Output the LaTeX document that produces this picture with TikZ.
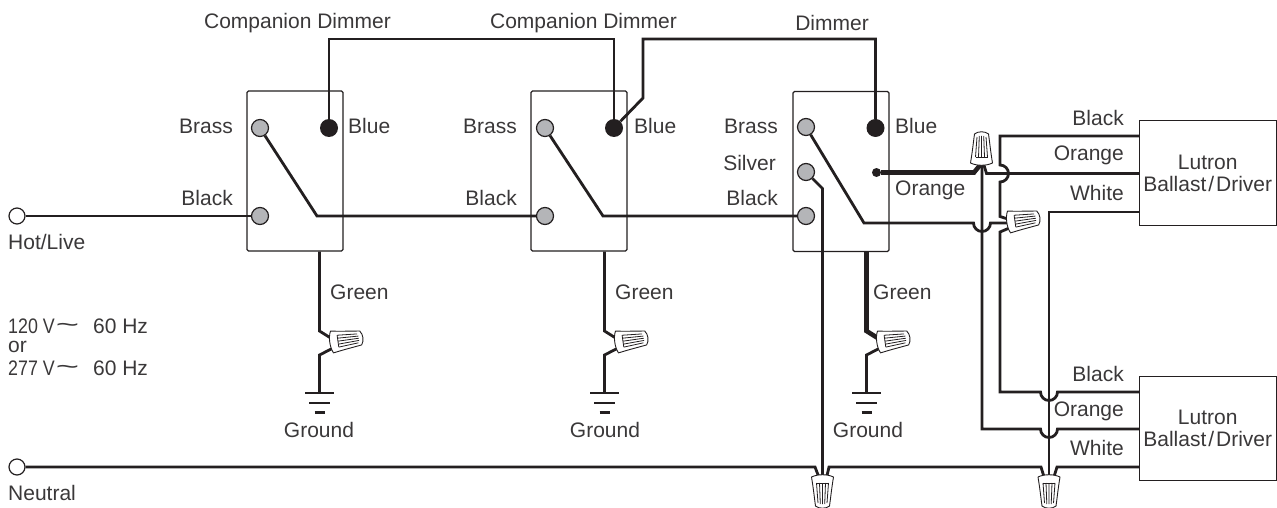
\documentclass[tikz,border=0pt]{standalone}
\usepackage{fontspec}
\setmainfont{Liberation Sans}
\definecolor{ink}{HTML}{231F20}
\definecolor{txt}{HTML}{3A3839}
\definecolor{brassc}{HTML}{B4B5B8}
\newcommand{\wavy}{\raisebox{1pt}{\scalebox{1.9}[1.1]{\char`\~}}}
\newcommand{\ballast}{Ballast\kern2pt/\kern2pt Driver}
\newcommand{\voltline}[1]{\scalebox{.85}[1]{#1 V}\kern1pt\wavy\kern14pt 60 Hz}
\tikzset{
  x=1pt,y=-1pt,
  wire/.style={draw=ink,line width=2.8pt,line join=miter},
  thickwire/.style={draw=ink,line width=4.6pt},
  switchbox/.style={draw=ink,line width=1.1pt,rounded corners=1.5pt,fill=white,minimum width=96pt,minimum height=160pt,inner sep=0pt},
  driverbox/.style={draw=ink,line width=1pt,fill=white,minimum width=136.5pt,minimum height=104pt,inner sep=0pt,align=center,text=txt,font=\fontsize{21}{22}\selectfont},
  lbl/.style={inner sep=0pt,text=txt,font=\fontsize{21}{25}\selectfont},
  brassdot/.style={circle,draw=ink,line width=1.2pt,fill=brassc,minimum size=17pt,inner sep=0pt},
  bluedot/.style={circle,fill=ink,minimum size=18pt,inner sep=0pt},
  smalldot/.style={circle,fill=ink,minimum size=9pt,inner sep=0pt},
  opendot/.style={circle,draw=ink,line width=1.2pt,fill=white,minimum size=16pt,inner sep=0pt},
  gbar/.style={draw=ink,line width=2.6pt},
  nutline/.style={draw=ink,line width=0.9pt,fill=white,line join=round},
  nutrib/.style={draw=ink,line width=0.8pt},
  pics/nut/.style={code={
    % base at origin, tip toward -y, length 32
    \path[nutline] (-11,0) .. controls (-9,-12) and (-8,-22) .. (-7,-29)
      .. controls (-3,-32) and (3,-32) .. (7,-29)
      .. controls (8,-22) and (9,-12) .. (11,0)
      .. controls (5,3) and (-5,3) .. (-11,0) -- cycle;
    \path[nutrib] (-6,-6) -- (-4.5,-26) (-3,-6) -- (-2.2,-27) (0,-6) -- (0,-27) (3,-6) -- (2.2,-27) (6,-6) -- (4.5,-26);
    \path[nutrib] (-6,-6) -- (6,-6);
  }},
}
\begin{document}
\begin{tikzpicture}
\useasboundingbox (0,0) rectangle (1277,508);

% switches
\node[switchbox] (s1) at (295,171) {};
\node[switchbox] (s2) at (579,171) {};
\node[switchbox] (s3) at (841,171.5) {};

% terminals
\node[brassdot] (b1) at (260,128) {};
\node[bluedot] (u1) at (329,128) {};
\node[brassdot] (k1) at (260,216) {};
\node[brassdot] (b2) at (545,128) {};
\node[bluedot] (u2) at (614,128) {};
\node[brassdot] (k2) at (545,216) {};
\node[brassdot] (b3) at (806,127) {};
\node[bluedot] (u3) at (875.5,128) {};
\node[brassdot] (v3) at (806,172) {};
\node[brassdot] (k3) at (806,216) {};
\node[smalldot] (o3) at (876.5,172.5) {};

% line ends and drivers
\node[opendot] (hot) at (17,216) {};
\node[opendot] (neu) at (17,467) {};
\node[driverbox] (d1) at (1207.75,173) {Lutron\\\ballast};
\node[driverbox] (d2) at (1207.75,428.5) {Lutron\\\ballast};

% bends
\coordinate (top1) at (329,39);
\coordinate (top2) at (614,39);
\coordinate (top3) at (643,39);
\coordinate (top4) at (875.5,39);
\coordinate (kink) at (643,98);
\coordinate (a1) at (317,216);
\coordinate (a2) at (603,216);
\coordinate (a3) at (864,223);

% wires: hot side
\draw[wire] (hot) -- (k1);
\draw[wire] (b1) -- (a1) -- (k2);
\draw[wire] (b2) -- (a2) -- (k3);
\draw[wire] (b3) -- (a3) -- (973.5,223) arc[start angle=180,end angle=0,radius=8.5] -- (1012,223);
\draw[wire] (u1) -- (top1) -- (top2) -- (u2);
\draw[wire] (u2) -- (kink) -- (top3) -- (top4) -- (u3);

% orange
\draw[thickwire] (o3) -- (974,172.5) -- (981,164);
\draw[wire] (982,160) -- (982,429) -- (1040.5,429) arc[start angle=180,end angle=0,radius=8.5] -- (d2.west |- 0,429);
\draw[wire] (983,162) -- (986.5,173.5) -- (d1.west |- 0,173.5);

% black
\draw[wire] (d1.west |- 0,136) -- (1000,136) -- (1000,165) arc[start angle=-90,end angle=90,radius=8.5] -- (1000,216.5) -- (1014,221);
\draw[wire] (1014,226) -- (1000,232) -- (1000,392) -- (1040.5,392) arc[start angle=180,end angle=0,radius=8.5] -- (d2.west |- 0,392);

% white
\draw[wire] (d1.west |- 0,212) -- (1049,212) -- (1049,480);
\draw[wire] (neu) -- (815,467) -- (820,480);
\draw[wire] (822.5,480) -- (822.5,188.5) -- (v3);
\draw[wire] (826,480) -- (829,467) -- (1041,467) -- (1045,480);
\draw[wire] (1053,480) -- (1057,467) -- (d2.west |- 0,467);

% ground legs
\draw[wire] (s1.south -| 319.5,0) -- (319.5,331) -- (337,342);
\draw[wire] (337,346) -- (319.5,355) -- (319.5,393);
\draw[wire] (s2.south -| 604.5,0) -- (604.5,331) -- (622,342);
\draw[wire] (622,346) -- (604.5,355) -- (604.5,393);
\draw[thickwire] (s3.south -| 866.5,0) -- (866.5,331) -- (884,342);
\draw[wire] (884,346) -- (866.5,355) -- (866.5,393);

\foreach \gx in {319.5,604.5,866.5}{
  \draw[gbar] (\gx-14.5,393) -- (\gx+14.5,393);
  \draw[gbar] (\gx-10.5,403) -- (\gx+10.5,403);
  \draw[gbar] (\gx-5,412.5) -- (\gx+5,412.5);
}

% wire nuts
\pic at (981.5,163) {nut};
\pic[rotate=-82] at (1009,222) {nut};
\pic[rotate=-82] at (332,342) {nut};
\pic[rotate=-82] at (617,342) {nut};
\pic[rotate=-82] at (879,342) {nut};
\pic[rotate=180] at (822.5,477) {nut};
\pic[rotate=180] at (1049,477) {nut};

% labels
\node[lbl] (t1) at (297.5,23) {Companion Dimmer};
\node[lbl] (t2) at (583.5,23) {Companion Dimmer};
\node[lbl] (t3) at (832,23) {Dimmer};
\node[lbl,anchor=east] (l1) at (233,126) {Brass};
\node[lbl,anchor=east] (l2) at (233,198) {Black};
\node[lbl,anchor=west] (l3) at (348,126) {Blue};
\node[lbl,anchor=east] (l4) at (517,126) {Brass};
\node[lbl,anchor=east] (l5) at (517,198) {Black};
\node[lbl,anchor=west] (l6) at (634,126) {Blue};
\node[lbl,anchor=east] (l7) at (778,126) {Brass};
\node[lbl,anchor=east] (l8) at (776,163) {Silver};
\node[lbl,anchor=east] (l9) at (778,198) {Black};
\node[lbl,anchor=west] (l10) at (895,126) {Blue};
\node[lbl,anchor=west] (l11) at (895,190) {Orange};
\node[lbl,anchor=west] (g1) at (330,292) {Green};
\node[lbl,anchor=west] (g2) at (615,292) {Green};
\node[lbl,anchor=west] (g3) at (873,292) {Green};
\node[lbl] (gr1) at (319,430) {Ground};
\node[lbl] (gr2) at (605,430) {Ground};
\node[lbl] (gr3) at (868,430) {Ground};
\node[lbl,anchor=west] (hl) at (8,242) {Hot/Live};
\node[lbl,anchor=west] (nl) at (8,493) {Neutral};
\node[lbl,anchor=west] (v1) at (8,326) {\voltline{120}};
\node[lbl,anchor=west] (v2) at (8,347) {or};
\node[lbl,anchor=west] (v3t) at (8,368) {\voltline{277}};
\node[lbl,anchor=east] (r1) at (1124,118) {Black};
\node[lbl,anchor=east] (r2) at (1124,155) {Orange};
\node[lbl,anchor=east] (r3) at (1124,193) {White};
\node[lbl,anchor=east] (r4) at (1124,374) {Black};
\node[lbl,anchor=east] (r5) at (1124,411) {Orange};
\node[lbl,anchor=east] (r6) at (1124,448) {White};
\end{tikzpicture}
\end{document}
